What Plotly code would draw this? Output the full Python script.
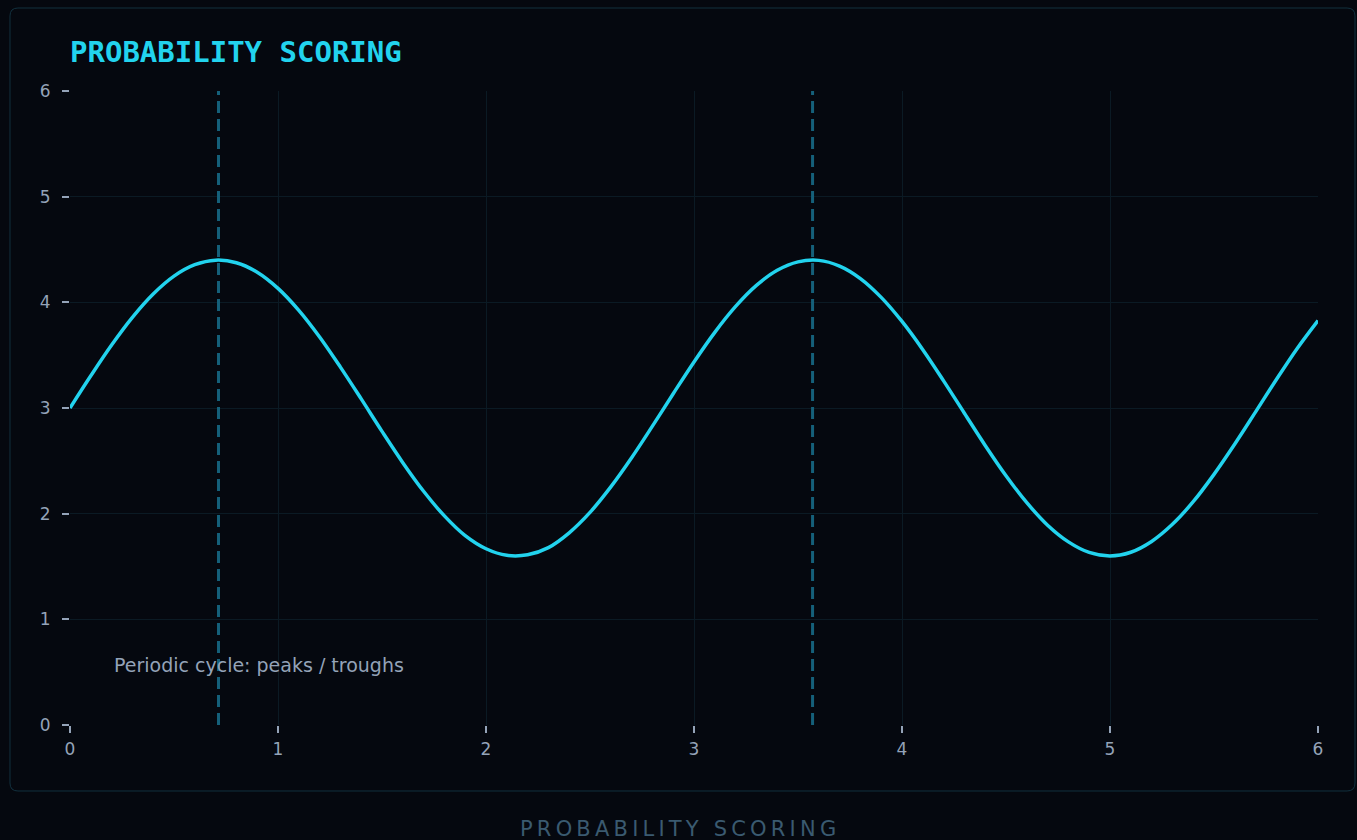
import plotly.graph_objects as go

# ---- data ----
x_vals = [round(i * 0.1, 1) for i in range(61)]
y_vals = [3.000, 3.305, 3.596, 3.858, 4.079, 4.248, 4.356, 4.399, 4.375, 4.285,
          4.132, 3.924, 3.672, 3.387, 3.086, 2.779, 2.483, 2.212, 1.979, 1.792,
          1.668, 1.606, 1.611, 1.679, 1.819, 2.012, 2.253, 2.529, 2.828, 3.135,
          3.436, 3.716, 3.961, 4.160, 4.303, 4.383, 4.397, 4.343, 4.225, 4.047,
          3.819, 3.552, 3.257, 2.951, 2.646, 2.359, 2.104, 1.891, 1.733, 1.633,
          1.600, 1.635, 1.737, 1.899, 2.113, 2.372, 2.659, 2.963, 3.270, 3.564,
          3.828]
peak_x = [0.714, 3.570]
x_ticks = [0, 1, 2, 3, 4, 5, 6]
y_ticks = [0, 1, 2, 3, 4, 5, 6]
title_text = "PROBABILITY SCORING"
note_text = "Periodic cycle: peaks / troughs"
caption_text = "PROBABILITY SCORING"

BG = "#05080f"
CYAN = "#22d3ee"
GRAY = "#94a3b8"
GRID = "#0b1a24"

fig = go.Figure()
fig.add_trace(go.Scatter(x=x_vals, y=y_vals, mode="lines",
                         line=dict(color=CYAN, width=3.5, shape="spline", smoothing=1),
                         hoverinfo="skip", showlegend=False))

for px in peak_x:
    fig.add_shape(type="line", xref="x", yref="y", x0=px, x1=px, y0=0, y1=6,
                  line=dict(color="#15607a", width=3, dash="12px,6px"), layer="above")

# rounded frame
L, R, B, T = -0.04808, 1.02965, -0.1041, 1.13091
dx, dy = 0.0064, 0.0126
path = (f"M {L+dx},{T} L {R-dx},{T} Q {R},{T} {R},{T-dy} L {R},{B+dy} Q {R},{B} {R-dx},{B} "
        f"L {L+dx},{B} Q {L},{B} {L},{B+dy} L {L},{T-dy} Q {L},{T} {L+dx},{T} Z")
fig.add_shape(type="path", xref="paper", yref="paper", path=path,
              line=dict(color="#12313f", width=1), layer="below")

fig.add_annotation(text=title_text, xref="paper", yref="paper", x=-0.0016, y=1.0615,
                   xanchor="left", yanchor="middle", showarrow=False,
                   font=dict(family="DejaVu Sans Mono", size=29, color=CYAN, weight="bold"))
fig.add_annotation(text=note_text, xref="x", yref="y", x=0.2, y=0.57,
                   xanchor="left", yanchor="middle", showarrow=False,
                   font=dict(family="DejaVu Sans", size=19, color=GRAY))
fig.add_annotation(text="\u2009".join(caption_text), xref="paper", yref="paper",
                   x=0.487, y=-0.142, xanchor="center", yanchor="top", showarrow=False,
                   font=dict(family="DejaVu Sans", size=21, color="#3a5a70"))

axis_common = dict(range=[0, 6], showgrid=True, gridcolor=GRID, gridwidth=1,
                   zeroline=False, showline=False, ticks="outside", ticklen=7,
                   tickwidth=1.5, tickcolor=GRAY,
                   tickfont=dict(family="DejaVu Sans", size=17, color=GRAY))
fig.update_xaxes(tickvals=x_ticks, ticktext=[str(v) for v in x_ticks],
                 ticklabelstandoff=2, **axis_common)
fig.update_yaxes(tickvals=y_ticks, ticktext=[str(v) for v in y_ticks],
                 ticklabelstandoff=8, **axis_common)

fig.update_layout(width=1357, height=840, paper_bgcolor=BG, plot_bgcolor=BG,
                  margin=dict(l=70, r=39, t=91, b=115), showlegend=False)

fig.write_html("out.html", config={"displayModeBar": False},
               post_script="document.body.style.margin='0';document.body.style.background='#05080f';")
